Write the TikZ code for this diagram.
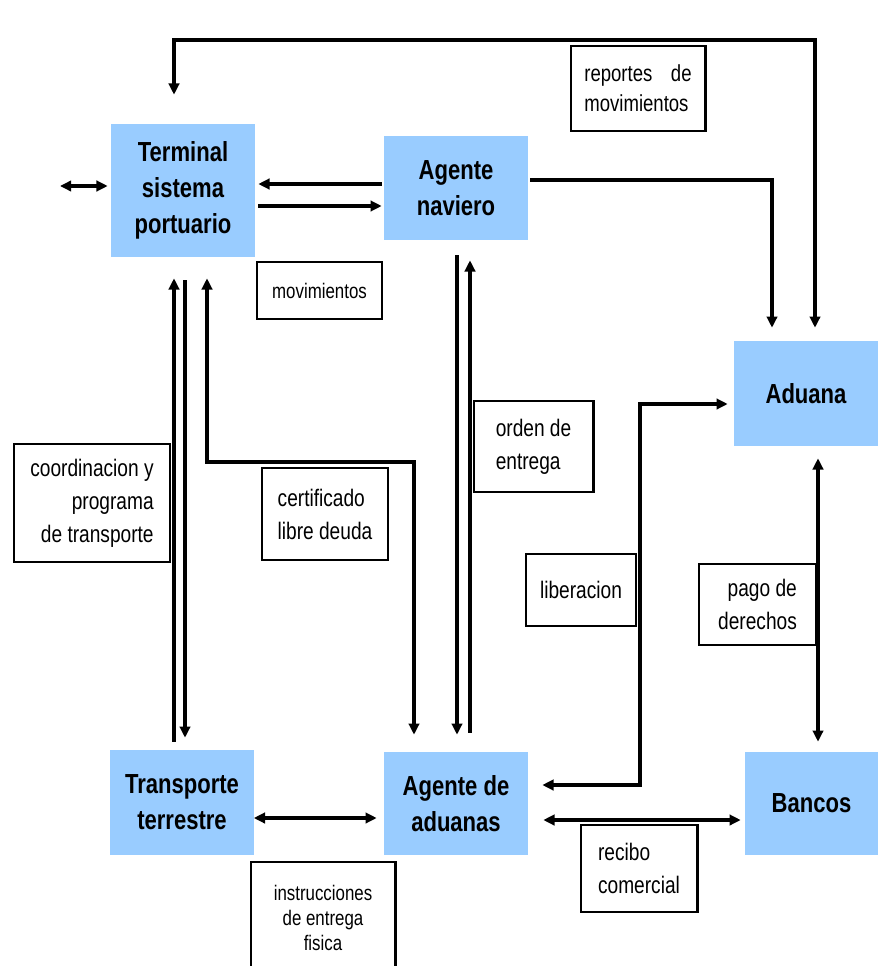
\documentclass[tikz,border=0pt]{standalone}
\usepackage{fontspec}
\setmainfont{Liberation Sans}[FakeStretch=0.8]
\usetikzlibrary{arrows.meta}

\definecolor{boxblue}{RGB}{153,204,255}

\tikzset{
  actor/.style={fill=boxblue, align=center, inner sep=0pt, minimum width=3.6cm,
    font=\bfseries\fontsize{19.6}{25.5}\selectfont},
  tag/.style={draw, line width=2.1pt, fill=white, inner sep=0pt,
    font=\fontsize{17}{23.5}\selectfont},
  smalltag/.style={tag, font=\fontsize{15}{17.8}\selectfont},
  flow/.style={line width=2.5pt, >={Triangle[length=0.28cm,width=0.26cm]}},
}

\begin{document}
\begin{tikzpicture}[x=0.025cm,y=-0.025cm]
      \useasboundingbox (0,0) rectangle (878,966);

      % actors
      \node[actor,minimum height=3.325cm] (term) at (183,190.5) {Terminal\\sistema\\portuario};
      \node[actor,minimum height=2.6cm] (nav) at (456,188) {Agente\\naviero};
      \node[actor,minimum height=2.625cm] (adu) at (806,393.5) {Aduana};
      \node[actor,minimum height=2.625cm,minimum width=3.575cm] (trans) at (182,802.5) {Transporte\\terrestre};
      \node[actor,minimum height=2.575cm] (agad) at (456,803.5) {Agente de\\aduanas};
      \node[actor,minimum height=2.575cm,minimum width=3.325cm] (banc) at (811.5,803.5) {Bancos};
      \coordinate (outside) at (60,186);

      % flows
      \draw[flow,<->,shorten >=0.075cm] (outside) -- (term.west |- outside);
      \draw[flow,->,shorten <=0.05cm,shorten >=0.075cm] (nav.west |- 0,184) -- (term.east |- 0,184);
      \draw[flow,->,shorten <=0.075cm,shorten >=0.05cm] (term.east |- 0,206) -- (nav.west |- 0,206);
      \draw[flow,<->,shorten <=0.725cm,shorten >=0.325cm] (term.north -| 174,0) -- (174,40) -- (815,40) -- (adu.north -| 815,0);
      \draw[flow,->,shorten <=0.05cm,shorten >=0.325cm] (nav.east |- 0,180) -- (772,180) -- (adu.north -| 772,0);
      \draw[flow,->,shorten <=0.2cm,shorten >=0.525cm] (trans.north -| 174,0) -- (term.south -| 174,0);
      \draw[flow,->,shorten <=0.575cm,shorten >=0.3cm] (term.south -| 185,0) -- (trans.north -| 185,0);
      \draw[flow,<->,shorten <=0.525cm,shorten >=0.425cm] (term.south -| 207,0) -- (207,462) -- (414,462) -- (agad.north -| 414,0);
      \draw[flow,->,shorten <=0.375cm,shorten >=0.425cm] (nav.south -| 457,0) -- (agad.north -| 457,0);
      \draw[flow,->,shorten <=0.475cm,shorten >=0.5cm] (agad.north -| 470,0) -- (nav.south -| 470,0);
      \draw[flow,<->,shorten <=0.15cm,shorten >=0.35cm] (adu.west |- 0,404) -- (640,404) -- (640,785) -- (agad.east |- 0,785);
      \draw[flow,<->,shorten <=0.3cm,shorten >=0.25cm] (adu.south -| 818,0) -- (banc.north -| 818,0);
      \draw[flow,<->,shorten <=0.375cm,shorten >=0.1cm] (agad.east |- 0,820) -- (banc.west |- 0,820);
      \draw[flow,<->,shorten >=0.175cm] (trans.east |- 0,818) -- (agad.west |- 0,818);

      % tags
      \node[tag,align=left,minimum width=3.35cm,minimum height=2.125cm,font=\fontsize{16.5}{21.3}\selectfont] (rep) at (638,88.5) {reportes\hspace{0.8em}de\\movimientos};
      \node[smalltag,minimum width=3.125cm,minimum height=1.425cm] (mov) at (319.5,290.5) {movimientos};
      \node[tag,align=right,minimum width=3.9cm,minimum height=2.95cm] (coord) at (92,503) {coordinacion y\\programa\\de transporte};
      \node[tag,align=left,minimum width=3.15cm,minimum height=2.3cm] (cert) at (325,514) {certificado\\libre deuda};
      \node[tag,align=left,minimum width=2.975cm,minimum height=2.275cm] (orden) at (533.5,446.5) {orden de\\entrega};
      \node[tag,minimum width=2.75cm,minimum height=1.8cm] (lib) at (581,590) {liberacion};
      \node[tag,align=right,minimum width=2.925cm,minimum height=2.025cm] (pago) at (757.5,604.5) {pago de\\derechos};
      \node[smalltag,align=center,minimum width=3.6cm,minimum height=2.8cm] (instr) at (323,918) {instrucciones\\de entrega\\fisica};
      \node[tag,align=left,minimum width=2.9cm,minimum height=2.175cm] (rec) at (639,868.5) {recibo\\comercial};
    \end{tikzpicture}
\end{document}
